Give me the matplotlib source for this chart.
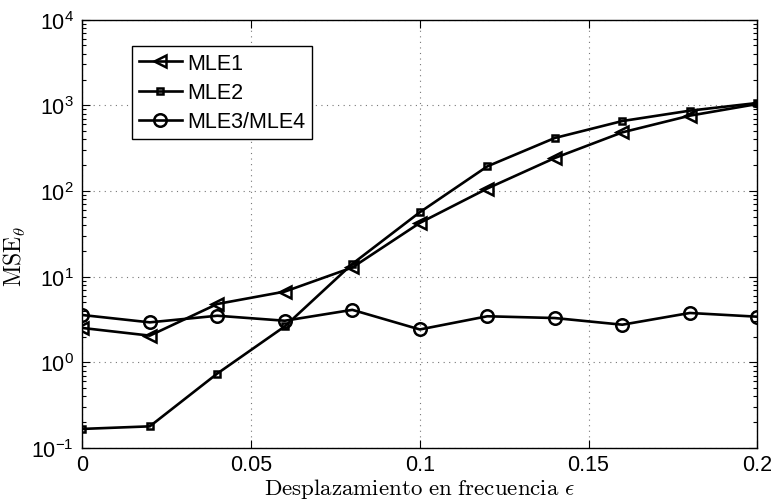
import matplotlib
matplotlib.use("Agg")
import matplotlib.pyplot as plt
from matplotlib.ticker import LogLocator, NullFormatter, FixedLocator

plt.rcParams['font.family'] = ['Liberation Sans', 'DejaVu Sans']
plt.rcParams['mathtext.fontset'] = 'cm'

eps = [0.0, 0.02, 0.04, 0.06, 0.08, 0.10, 0.12, 0.14, 0.16, 0.18, 0.20]
mle1 = [2.52, 2.05, 4.8, 6.7, 12.8, 42.4, 107, 243, 484, 758, 1037]
mle2 = [0.167, 0.179, 0.74, 2.63, 14.1, 56.5, 194, 416, 656, 867, 1066]
mle34 = [3.57, 2.93, 3.5, 3.06, 4.1, 2.42, 3.45, 3.29, 2.75, 3.77, 3.41]
series_labels = ['MLE1', 'MLE2', 'MLE3/MLE4']
xticks = [0, 0.05, 0.1, 0.15, 0.2]
xtick_labels = ['0', '0.05', '0.1', '0.15', '0.2']

fig = plt.figure(figsize=(7.72, 5.02), dpi=100)
ax = fig.add_axes([82.3/772, 53/502, 675/772, 428.3/502])

lw = 1.9
mew = 1.8
ax.plot(eps, mle1, color='black', lw=lw, marker='<', markersize=8,
        markerfacecolor='none', markeredgewidth=mew, label=series_labels[0])
ax.plot(eps, mle2, color='black', lw=lw, marker='s', markersize=5,
        markerfacecolor='none', markeredgewidth=mew, label=series_labels[1])
ax.plot(eps, mle34, color='black', lw=lw, marker='o', markersize=9,
        markerfacecolor='none', markeredgewidth=mew, label=series_labels[2])

ax.set_yscale('log')
ax.set_xlim(0, 0.2)
ax.set_ylim(1e-1, 1e4)
ax.xaxis.set_major_locator(FixedLocator(xticks))
ax.set_xticklabels(xtick_labels)
ax.yaxis.set_major_locator(LogLocator(base=10, numticks=10))
ax.yaxis.set_minor_locator(LogLocator(base=10, subs=range(2, 10), numticks=20))
ax.yaxis.set_minor_formatter(NullFormatter())

ax.tick_params(axis='both', which='both', direction='in', top=True, right=True,
               labelsize=15.5, width=0.8)
ax.tick_params(axis='both', which='major', length=6)
ax.tick_params(axis='y', which='minor', length=3)
ax.tick_params(axis='x', which='major', pad=4)
ax.tick_params(axis='y', which='major', pad=6)

ax.grid(True, which='major', linestyle=(0, (1, 4)), color='#777777', linewidth=0.8)
for s in ax.spines.values():
    s.set_linewidth(1.0)

ax.set_xlabel(r'$\mathrm{Desplazamiento\ en\ frecuencia}\ \epsilon$', fontsize=16.5)
ax.xaxis.set_label_coords(0.5, -0.066)
ax.set_ylabel(r'$\mathrm{MSE}_{\theta}$', fontsize=17)
ax.yaxis.set_label_coords(-0.08, 0.45)

leg = ax.legend(loc='upper left', bbox_to_anchor=(132/772, 1 - 47/502),
                bbox_transform=fig.transFigure, borderaxespad=0, fancybox=False,
                framealpha=1, edgecolor='black', fontsize=15.5, handlelength=2.0,
                handletextpad=0.25, labelspacing=0.38, borderpad=0.32, numpoints=1)
leg.get_frame().set_linewidth(1.0)

fig.savefig('out.png', dpi=100)
